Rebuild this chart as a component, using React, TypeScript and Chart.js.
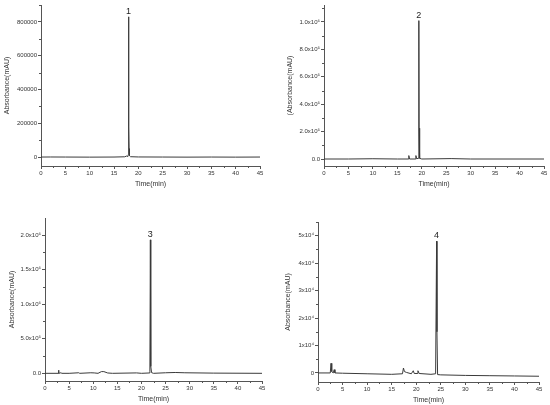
import React, { useEffect, useRef } from 'react';
import { Chart, registerables } from 'chart.js';

Chart.register(...registerables);

// ---------- shared x axis ----------
const xTicks = [0, 5, 10, 15, 20, 25, 30, 35, 40, 45];
const xTickLabels = ['0', '5', '10', '15', '20', '25', '30', '35', '40', '45'];

// ---------- panel 1 ----------
const time1 = [0, 2, 5, 10, 15, 17.2, 17.6, 17.85, 17.95, 18.0, 18.04, 18.1, 18.18, 18.4, 20, 25, 30, 35, 40, 45];
const abs1 = [0, 300, 0, -500, 0, 1500, 6000, 3000, 15000, 830000, 178000, 50000, 8000, 2000, 500, 0, -500, 0, -500, 0];
const yTicks1 = [0, 200000, 400000, 600000, 800000];
const yLabels1 = ['0', '200000', '400000', '600000', '800000'];

// ---------- panel 2 ----------
const time2 = [0, 5, 10, 15, 17.2, 17.35, 17.5, 18.65, 18.8, 18.95, 19.3, 19.4, 19.45, 19.52, 19.6, 20, 26, 30, 45];
const abs2 = [0, 0, 2000, 0, 0, 25000, 0, 0, 25000, 2000, 5000, 1010000, 225000, 40000, 5000, 0, 3000, 0, 0];
const yTicks2 = [0, 200000, 400000, 600000, 800000, 1000000];
const yLabels2 = ['0.0', '2.0x10⁵', '4.0x10⁵', '6.0x10⁵', '8.0x10⁵', '1.0x10⁶'];

// ---------- panel 3 ----------
const time3 = [0, 2.7, 2.8, 2.9, 3.3, 3.5, 5, 7, 7.2, 9.5, 10.2, 11, 11.7, 12.2, 13, 14, 19, 20, 21.6, 21.75, 21.85, 21.9, 21.97, 22.1, 22.5, 25, 27, 29, 35, 45];
const abs3 = [0, 0, 45000, 0, 8000, 0, 0, 8000, 0, 8000, 6000, 0, 25000, 25000, 5000, 0, 6000, 0, 5000, 30000, 1930000, 550000, 100000, 10000, 0, 8000, 12000, 8000, 3000, 0];
const yTicks3 = [0, 500000, 1000000, 1500000, 2000000];
const yLabels3 = ['0.0', '5.0x10⁵', '1.0x10⁶', '1.5x10⁶', '2.0x10⁶'];

// ---------- panel 4 ----------
const time4 = [0, 2.5, 2.65, 2.8, 3.1, 3.3, 3.45, 5, 10, 15, 17.2, 17.4, 17.6, 18, 19, 19.4, 19.6, 20.2, 20.35, 20.6, 23, 23.95, 24.15, 24.22, 24.35, 25, 30, 35, 40, 45];
const abs4 = [0, 0, 3500, 500, 0, 1200, 0, -100, -300, -500, -300, 1800, 500, 200, -300, 800, -200, -200, 800, -200, -500, -300, 48000, 15000, -600, -700, -900, -1000, -1100, -1200];
const yTicks4 = [0, 10000, 20000, 30000, 40000, 50000];
const yLabels4 = ['0', '1x10⁴', '2x10⁴', '3x10⁴', '4x10⁴', '5x10⁴'];

type PanelCfg = {
  left: number; top: number; width: number; height: number;
  areaLeft: number; areaTop: number; areaRight: number; areaBottom: number;
  yTitlePad: number;
  times: number[]; values: number[];
  yMin: number; yMax: number; yTicks: number[]; yLabels: string[];
  yTitle: string;
  peakLabel: string; peakTime: number; peakValue: number;
};

const panels: PanelCfg[] = [
  {
    left: 0, top: 0, width: 275, height: 200,
    areaLeft: 41, areaTop: 5, areaRight: 260, areaBottom: 166, yTitlePad: 3,
    times: time1, values: abs1, yMin: -53000, yMax: 900000, yTicks: yTicks1, yLabels: yLabels1,
    yTitle: 'Absorbance(mAU)', peakLabel: '1', peakTime: 18.0, peakValue: 830000,
  },
  {
    left: 275, top: 0, width: 275, height: 200,
    areaLeft: 49, areaTop: 5, areaRight: 269, areaBottom: 166, yTitlePad: 11,
    times: time2, values: abs2, yMin: -51000, yMax: 1124000, yTicks: yTicks2, yLabels: yLabels2,
    yTitle: '(Absorbance(mAU)', peakLabel: '2', peakTime: 19.4, peakValue: 1010000,
  },
  {
    left: 0, top: 200, width: 275, height: 205,
    areaLeft: 45, areaTop: 18, areaRight: 262, areaBottom: 181, yTitlePad: 8,
    times: time3, values: abs3, yMin: -111000, yMax: 2246000, yTicks: yTicks3, yLabels: yLabels3,
    yTitle: 'Absorbance(mAU)', peakLabel: '3', peakTime: 21.85, peakValue: 1930000,
  },
  {
    left: 275, top: 200, width: 275, height: 205,
    areaLeft: 43, areaTop: 22, areaRight: 264, areaBottom: 182, yTitlePad: 8.5,
    times: time4, values: abs4, yMin: -3300, yMax: 55000, yTicks: yTicks4, yLabels: yLabels4,
    yTitle: 'Absorbance(mAU)', peakLabel: '4', peakTime: 24.15, peakValue: 48000,
  },
];

const AXIS_COLOR = '#555';
const TEXT_COLOR = '#333';
const FONT = 'Liberation Sans, Arial, sans-serif';

function Panel({ cfg }: { cfg: PanelCfg }) {
  const ref = useRef<HTMLCanvasElement | null>(null);
  useEffect(() => {
    if (!ref.current) return;
    const xH = 22;
    const extras = {
      id: 'extras',
      afterDraw(chart: any) {
        const ctx = chart.ctx;
        const xs = chart.scales.x;
        const ys = chart.scales.y;
        const area = chart.chartArea;
        ctx.save();
        ctx.strokeStyle = AXIS_COLOR;
        ctx.lineWidth = 1;
        // minor ticks x
        for (let i = 0; i < xTicks.length - 1; i++) {
          const v = (xTicks[i] + xTicks[i + 1]) / 2;
          const px = Math.round(xs.getPixelForValue(v)) + 0.5;
          ctx.beginPath();
          ctx.moveTo(px, area.bottom);
          ctx.lineTo(px, area.bottom + 2);
          ctx.stroke();
        }
        // minor ticks y
        const yt = cfg.yTicks;
        const step = yt[1] - yt[0];
        const minors: number[] = [];
        for (let i = 0; i < yt.length; i++) minors.push(yt[i] + step / 2);
        minors.push(yt[0] - step / 2);
        minors.forEach((v) => {
          if (v < cfg.yMin || v > cfg.yMax) return;
          const py = Math.round(ys.getPixelForValue(v)) + 0.5;
          ctx.beginPath();
          ctx.moveTo(area.left, py);
          ctx.lineTo(area.left - 2, py);
          ctx.stroke();
        });
        // peak label
        ctx.fillStyle = '#222';
        ctx.font = `9px ${FONT}`;
        ctx.textAlign = 'center';
        ctx.textBaseline = 'bottom';
        ctx.fillText(cfg.peakLabel, xs.getPixelForValue(cfg.peakTime), ys.getPixelForValue(cfg.peakValue) - 1);
        ctx.restore();
      },
    };
    const chart = new Chart(ref.current, {
      type: 'line',
      data: {
        datasets: [
          {
            data: cfg.times.map((t, i) => ({ x: t, y: cfg.values[i] })),
            borderColor: '#3a3a3a',
            borderWidth: 1,
            pointRadius: 0,
            tension: 0,
            fill: false,
          },
        ],
      },
      options: {
        responsive: false,
        animation: false,
        devicePixelRatio: 1,
        layout: {
          padding: {
            left: 0,
            top: cfg.areaTop,
            right: cfg.width - cfg.areaRight,
            bottom: cfg.height - cfg.areaBottom - xH,
          },
        },
        plugins: { legend: { display: false }, tooltip: { enabled: false } },
        scales: {
          x: {
            type: 'linear',
            min: 0,
            max: 45,
            afterBuildTicks: (s: any) => { s.ticks = xTicks.map((v) => ({ value: v })); },
            afterFit: (s: any) => { s.height = xH; },
            ticks: {
              autoSkip: false,
              maxRotation: 0,
              padding: 1,
              color: TEXT_COLOR,
              font: { size: 6, family: FONT },
              callback: (_v: any, i: number) => xTickLabels[i],
            },
            grid: { display: true, drawOnChartArea: false, drawTicks: true, tickLength: 3, color: AXIS_COLOR, tickColor: AXIS_COLOR },
            border: { display: true, color: AXIS_COLOR, width: 1 },
            title: { display: true, text: 'Time(min)', color: TEXT_COLOR, font: { size: 7, family: FONT }, padding: { top: 0, bottom: 0 } },
          },
          y: {
            type: 'linear',
            min: cfg.yMin,
            max: cfg.yMax,
            afterBuildTicks: (s: any) => { s.ticks = cfg.yTicks.map((v) => ({ value: v })); },
            afterFit: (s: any) => { s.width = cfg.areaLeft; },
            ticks: {
              autoSkip: false,
              padding: 1,
              color: TEXT_COLOR,
              font: { size: 6, family: FONT },
              callback: (_v: any, i: number) => cfg.yLabels[i],
            },
            grid: { display: true, drawOnChartArea: false, drawTicks: true, tickLength: 3, color: AXIS_COLOR, tickColor: AXIS_COLOR },
            border: { display: true, color: AXIS_COLOR, width: 1 },
            title: { display: true, text: cfg.yTitle, color: TEXT_COLOR, font: { size: 7, family: FONT }, padding: { top: cfg.yTitlePad, bottom: 0 } },
          },
        },
      },
      plugins: [extras],
    } as any);
    return () => chart.destroy();
  }, [cfg]);
  return (
    <canvas
      ref={ref}
      width={cfg.width}
      height={cfg.height}
      style={{ position: 'absolute', left: cfg.left, top: cfg.top, width: cfg.width, height: cfg.height }}
    />
  );
}

export default function App() {
  return (
    <div style={{ position: 'fixed', left: 0, top: 0, width: 550, height: 405, background: '#fff', overflow: 'hidden' }}>
      {panels.map((p, i) => (
        <Panel key={i} cfg={p} />
      ))}
    </div>
  );
}
